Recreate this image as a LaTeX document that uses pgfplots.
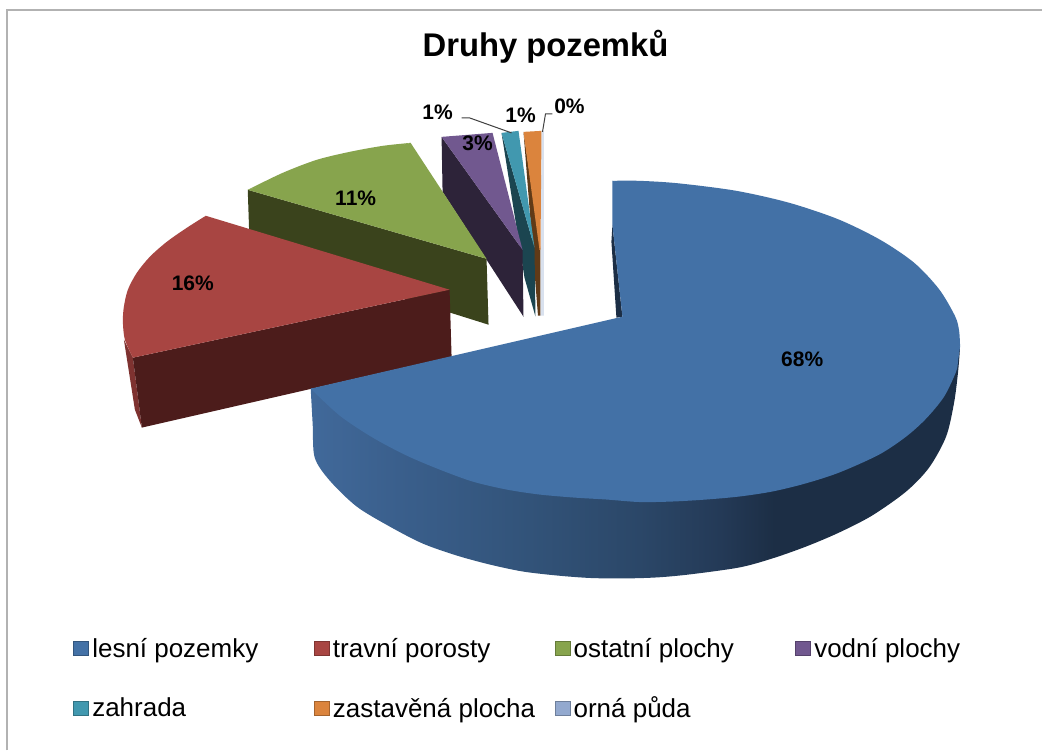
\documentclass[border=0pt]{standalone}
\usepackage{fontspec}
\setmainfont{Liberation Sans}
\usepackage{pgfplots}
\pgfplotsset{compat=1.18}
\definecolor{cblue}{HTML}{4371A6}
\definecolor{cred}{HTML}{A84542}
\definecolor{cgreen}{HTML}{87A44D}
\definecolor{cpurple}{HTML}{71588F}
\definecolor{cteal}{HTML}{4198AF}
\definecolor{corange}{HTML}{DB843D}
\definecolor{cpale}{HTML}{93A9CF}
\definecolor{sred}{HTML}{4C1C1B}
\definecolor{sredlight}{HTML}{7E3230}
\definecolor{sgreen}{HTML}{3A431C}
\definecolor{spurple}{HTML}{2D2339}
\definecolor{steal}{HTML}{1B4550}
\definecolor{sorange}{HTML}{603A17}
\definecolor{sblue}{HTML}{1C2E45}
\definecolor{framegray}{HTML}{B2B2B2}
\definecolor{leader}{HTML}{404040}
\definecolor{rimd}{HTML}{41699A}
\definecolor{rimc}{HTML}{3A5F8C}
\definecolor{rimb}{HTML}{325379}
\definecolor{rima}{HTML}{2B4768}
\definecolor{rimz}{HTML}{243A57}
% blue rim: 25bp = left end of the rim, 75bp = right end
\pgfdeclarehorizontalshading{bluerim}{100bp}{
  color(0bp)=(rimd);color(25bp)=(rimd);
  color(31.8bp)=(rimc);color(41.8bp)=(rimb);color(50.3bp)=(rima);
  color(56.5bp)=(rimz);color(60.7bp)=(sblue);color(100bp)=(sblue)}
\newcommand{\lgd}[1]{\makebox[222bp][l]{\rule[-7bp]{0pt}{24bp}#1}}
\begin{document}
\begin{tikzpicture}
\begin{axis}[
  width=1043bp, height=751bp, scale only axis,
  xmin=0, xmax=1043, ymin=0, ymax=751, y dir=reverse,
  hide axis, clip=false,
  title={\textbf{Druhy pozemků}},
  title style={at={(0.5235,0.930)},anchor=center,font=\fontsize{32.8bp}{38bp}\selectfont},
  legend columns=4,
  legend image code/.code={\draw[#1] (0bp,-7.5bp) rectangle (15bp,7.5bp);},
  legend style={at={(axis cs:73.5,638.5)},anchor=north west,draw=none,fill=none,
    inner sep=0pt,outer sep=0pt,nodes={inner sep=0pt,outer sep=0pt},
    font=\fontsize{26bp}{28bp}\selectfont,legend cell align=left,
    /tikz/every odd column/.append style={column sep=3.5bp},
    /tikz/row sep=38.5bp},
]
\addlegendimage{fill=cblue,draw=cblue!75!black}
\addlegendentry{\lgd{lesní pozemky}}
\addlegendimage{fill=cred,draw=cred!75!black}
\addlegendentry{\lgd{travní porosty}}
\addlegendimage{fill=cgreen,draw=cgreen!75!black}
\addlegendentry{\lgd{ostatní plochy}}
\addlegendimage{fill=cpurple,draw=cpurple!75!black}
\addlegendentry{\lgd{vodní plochy}}
\addlegendimage{fill=cteal,draw=cteal!75!black}
\addlegendentry{\lgd{zahrada}}
\addlegendimage{fill=corange,draw=corange!75!black}
\addlegendentry{\lgd{zastavěná plocha}}
\addlegendimage{fill=cpale,draw=cpale!75!black}
\addlegendentry{\lgd{orná půda}}

% page area and frame (top and left only)
\addplot[forget plot,draw=none,fill=white] coordinates {(0,0) (1043,0) (1043,751) (0,751)} -- cycle;
\addplot[forget plot,framegray,line width=2bp] coordinates {(7.5,751) (7.5,10.5) (1043,10.5)};

% orná půda 0 %
\addplot[forget plot,draw=none,fill=cpale!35!white] coordinates {(542,131) (544.5,131) (544.5,316) (541,316)} -- cycle;
% zastavěná plocha 1 %
\addplot[forget plot,draw=none,fill=sorange] coordinates {(524,132) (541,250) (541,316) (538.5,316)} -- cycle;
\addplot[forget plot,draw=none,fill=corange] coordinates {(524,132) (542,131) (541,250) (540,250)} -- cycle;
% zahrada 1 %
\addplot[forget plot,draw=none,fill=steal] coordinates {(502,133) (535,248) (536,317) (525,278)} -- cycle;
\addplot[forget plot,draw=none,fill=cteal] coordinates {(502,133) (519,131) (535,248)} -- cycle;
% vodní plochy 3 %
\addplot[forget plot,draw=none,fill=spurple] coordinates {(442,137) (523,250) (524,317) (443,192)} -- cycle;
\addplot[forget plot,draw=none,fill=cpurple] coordinates {(442,137) (493,133) (523,250)} -- cycle;
% ostatní plochy 11 %
\addplot[forget plot,draw=none,fill=sgreen] coordinates {(248,190) (487,259) (489,325) (250,250)} -- cycle;
\addplot[forget plot,draw=none,fill=cgreen,smooth] coordinates {(411,143) (383,146) (350,152) (317,160) (283,173) (248,190)};
\addplot[forget plot,draw=none,fill=cgreen] coordinates {(487,259) (411,143) (330,163) (248,190)} -- cycle;
% travní porosty 16 %
\addplot[forget plot,draw=none,fill=sredlight] coordinates {(124,340) (133,358) (142,428) (135,410)} -- cycle;
\addplot[forget plot,draw=none,fill=sred] coordinates {(133,358) (450,290) (452,357) (142,428)} -- cycle;
\addplot[forget plot,draw=none,fill=cred,smooth] coordinates {(206,216) (187,228) (167,242) (150,257) (137,273) (128,290) (124,307) (123,322) (125,340) (133,358)};
\addplot[forget plot,draw=none,fill=cred] coordinates {(450,290) (206,216) (150,285) (133,358)} -- cycle;
% lesní pozemky 68 %
\addplot[forget plot,draw=none,fill=sblue] coordinates {(613,225) (612,242) (617,318) (623,317)} -- cycle;
\addplot[forget plot,draw=none,shade,shading=bluerim,smooth] coordinates {(311,389) (313,425) (315,458) (330,481) (357,507) (390,527) (423,544) (457,556) (490,565) (523,572) (557,576) (590,578.5) (623,579) (657,578) (690,575) (740,568) (773,559) (807,547) (840,533) (873,516) (907,492) (930,468) (947,437) (955,403) (959,372) (961,347)};
\addplot[forget plot,draw=none,fill=cblue,smooth] coordinates {(613,181) (640,181) (679,183.5) (737,191) (790,203) (839,219.5) (881,240) (915,263) (940,289.5) (956,316.5) (960,331) (961,347)};
\addplot[forget plot,draw=none,fill=cblue,smooth] coordinates {(961,347) (959,361) (957,372) (945,397) (927,419) (907,437) (880,455) (840,473) (806,484) (773,492) (740,497) (707,500) (673,502) (640,502.5) (607,500) (574,498) (540,495) (507,490) (473,482) (440,470) (407,456) (373,438) (340,416) (311,389)};
\addplot[forget plot,draw=none,fill=cblue] coordinates {(623,317) (613,225) (613,181) (800,240) (961,347) (620,450) (311,389)} -- cycle;

% leader lines
\addplot[forget plot,leader,line width=1bp] coordinates {(462,118) (470,118) (512,133)};
\addplot[forget plot,leader,line width=1bp] coordinates {(553,114) (546,114) (543,132)};

\begin{scope}[every node/.style={font=\fontsize{21bp}{24bp}\selectfont\bfseries,anchor=center,inner sep=0pt}]
\node at (axis cs:803,360) {68\%};
\node at (axis cs:193,284) {16\%};
\node at (axis cs:356,198) {11\%};
\node at (axis cs:478,143) {3\%};
\node at (axis cs:438,112) {1\%};
\node at (axis cs:521,115) {1\%};
\node at (axis cs:570,106) {0\%};
\end{scope}
\end{axis}
\end{tikzpicture}
\end{document}
